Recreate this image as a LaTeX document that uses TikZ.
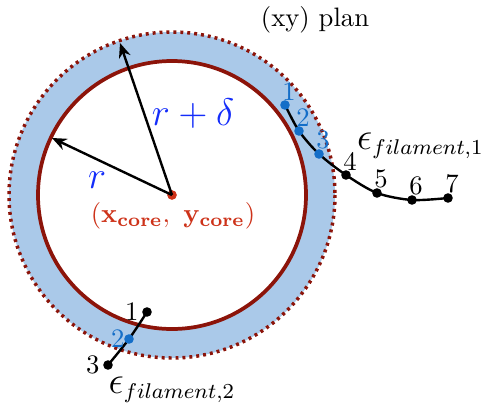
\documentclass[tikz,border=0pt]{standalone}
\usetikzlibrary{arrows.meta}

\definecolor{ringblue}{RGB}{170,201,233}
\definecolor{corered}{RGB}{140,20,10}
\definecolor{centrered}{RGB}{205,50,25}
\definecolor{labelblue}{RGB}{20,45,250}
\definecolor{pointblue}{RGB}{20,110,200}

\begin{document}
\begin{tikzpicture}[x=0.375pt, y=-0.375pt,
    core/.style={draw=corered, line width=1.4pt},
    shell/.style={draw=corered, line width=1.3pt, dash pattern=on 1.1pt off 1.5pt},
    radius_arrow/.style={-{Stealth[length=5.5pt, width=4.5pt]}, line width=0.9pt},
    fil/.style={line width=0.9pt},
    pt/.style={circle, fill, inner sep=0pt, minimum size=3.6pt},
    pt_in/.style={pt, fill=pointblue},
    num/.style={font=\normalsize, inner sep=1pt},
    num_in/.style={num, text=pointblue},
    rlabel/.style={font=\Large, text=labelblue},
    fil_label/.style={font=\fontsize{11}{13}\selectfont, inner sep=1pt},
]
\useasboundingbox (0,0) rectangle (489,411);

% ===================== CORE AND SHELL =====================
\node[circle, fill=centrered, inner sep=0pt, minimum size=3.5pt] (c) at (172,195) {};
\fill[ringblue, even odd rule] (c.center) circle[radius=163] (c.center) circle[radius=134];
\draw[core] (c.center) circle[radius=134];
\draw[shell] (c.center) circle[radius=163];
\node[circle, fill=centrered, inner sep=0pt, minimum size=3.5pt] at (c) {};

\node (plan) at (315,20) {(xy) plan};

% radii
\coordinate (rtip) at (52,138);
\coordinate (Rtip) at (120,43);
\draw[radius_arrow] (c.center) -- (rtip);
\draw[radius_arrow] (c.center) -- (Rtip);
\node[rlabel] (rtext) at (97,180) {$r$};
\node[rlabel] (Rtext) at (193,114) {$r+\delta$};
\node[text=centrered] (ctext) at (173,216)
    {$(\mathbf{x}_{\mathbf{core}},\ \mathbf{y}_{\mathbf{core}})$};

% ===================== FILAMENT 1 =====================
\foreach \n/\x/\y in {1/285/105, 2/299/131, 3/319/154, 4/346/175,
                      5/377/193, 6/412/200, 7/448/198} {
    \coordinate (fa\n) at (\x,\y);
}
\draw[fil] plot[smooth] coordinates {(fa1) (fa2) (fa3) (fa4) (fa5) (fa6) (fa7)};
\foreach \n in {1,2,3} {
    \node[pt_in, label={[num_in, label distance=-1.5pt, xshift=1.5pt]above:\n}] (da\n) at (fa\n) {};
}
\foreach \n in {4,...,7} {
    \node[pt, label={[num, label distance=-1.5pt, xshift=1.5pt]above:\n}] (da\n) at (fa\n) {};
}
\node[fil_label, anchor=east] (eps1) at (487,146) {{\Large$\epsilon$}$_{filament,1}$};

% ===================== FILAMENT 2 =====================
\foreach \n/\x/\y in {1/147/312, 2/129/339, 3/108/365} {
    \coordinate (fb\n) at (\x,\y);
}
\draw[fil] plot[smooth] coordinates {(fb1) (fb2) (fb3)};
\node[pt, label={[num]left:1}] (db1) at (fb1) {};
\node[pt_in, label={[num_in, label distance=-1.5pt]left:2}] (db2) at (fb2) {};
\node[pt, label={[num]left:3}] (db3) at (fb3) {};
\node[fil_label] (eps2) at (172,390) {{\Large$\epsilon$}$_{filament,2}$};

\end{tikzpicture}
\end{document}
